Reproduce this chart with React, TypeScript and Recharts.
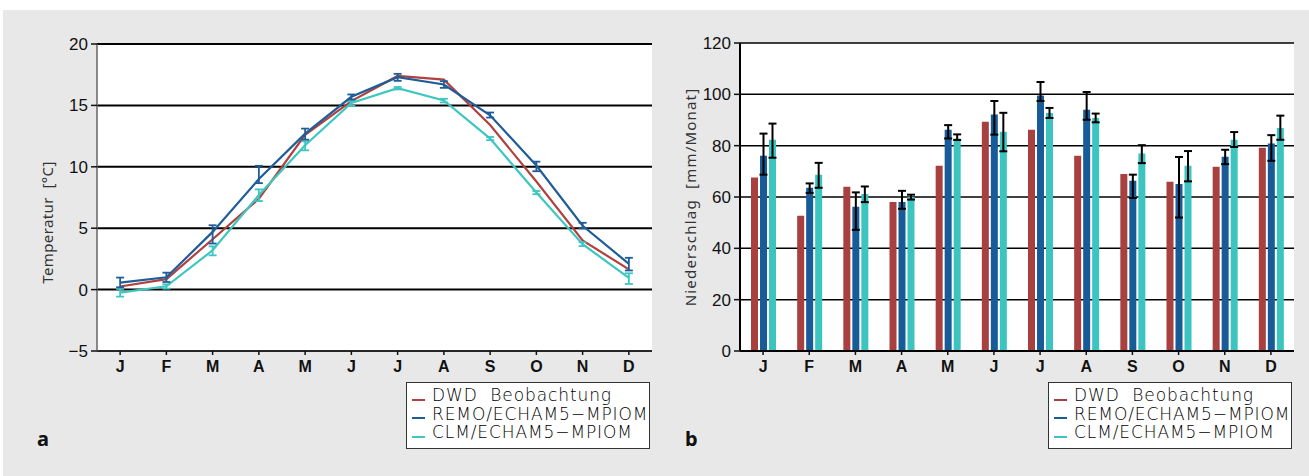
import React from "react";
import {
    LineChart,
    Line,
    BarChart,
    Bar,
    XAxis,
    YAxis,
    CartesianGrid,
    ErrorBar,
    Legend,
    Label,
} from "recharts";

// Monatsmittel, Stationen vs. Modelle
const months = ["J", "F", "M", "A", "M", "J", "J", "A", "S", "O", "N", "D"];
const seriesNames = ["DWD  Beobachtung", "REMO/ECHAM5\u2212MPIOM", "CLM/ECHAM5\u2212MPIOM"];

const tempTicks = [-5, 0, 5, 10, 15, 20];
const tempDwd = [0.25, 0.85, 4.1, 7.4, 12.6, 15.35, 17.4, 17.1, 13.4, 8.8, 4.0, 1.65];
const tempRemo = [0.57, 1.0, 4.7, 9.0, 12.7, 15.7, 17.3, 16.7, 14.2, 10.1, 5.2, 2.1];
const tempRemoErr = [
    [0.38, 0.41], [0.38, 0.38], [0.95, 0.54], [0.33, 1.08], [0.49, 0.41], [0.22, 0.19],
    [0.3, 0.27], [0.27, 0.27], [0.19, 0.22], [0.46, 0.32], [0.22, 0.24], [0.54, 0.49],
];
const tempClm = [-0.25, 0.27, 3.2, 7.7, 11.75, 15.2, 16.4, 15.4, 12.3, 7.9, 3.7, 0.95];
const tempClmErr = [
    [0.32, 0.3], [0.19, 0.16], [0.41, 0.32], [0.49, 0.46], [0.41, 0.32], [0.24, 0.14],
    [0.1, 0.1], [0.16, 0.14], [0.13, 0.13], [0.13, 0.13], [0.16, 0.16], [0.49, 0.38],
];

const precTicks = [0, 20, 40, 60, 80, 100, 120];
const precDwd = [67.6, 52.7, 64.0, 58.1, 72.2, 89.3, 86.2, 76.1, 69.0, 65.9, 71.8, 79.2];
const precRemo = [76.1, 63.6, 56.2, 58.1, 86.2, 92.1, 99.5, 94.0, 66.3, 65.1, 75.7, 80.8];
const precRemoErr = [
    [7.4, 8.6], [2.0, 1.7], [9.0, 5.6], [2.7, 4.3], [3.4, 1.8], [7.8, 5.3],
    [2.1, 5.3], [3.9, 6.9], [6.7, 2.4], [13.1, 10.5], [2.9, 2.7], [6.7, 3.3],
];
const precClm = [82.3, 68.7, 61.2, 60.0, 82.8, 85.4, 92.7, 90.8, 76.9, 72.2, 82.3, 86.9];
const precClmErr = [
    [7.0, 6.3], [5.1, 4.6], [3.2, 2.9], [1.0, 0.9], [0.6, 1.6], [7.6, 7.4],
    [1.9, 2.0], [1.7, 1.7], [3.7, 3.3], [6.1, 5.7], [2.8, 3.0], [4.6, 4.8],
];

const lineColors = ["#b0413e", "#1f5d98", "#3ec6c1"];
const barColors = ["#a8403f", "#175c99", "#3bc4c0"];

const tempData = months.map((m, i) => ({
    x: i + 1,
    dwd: tempDwd[i],
    remo: tempRemo[i],
    remoErr: tempRemoErr[i],
    clm: tempClm[i],
    clmErr: tempClmErr[i],
}));

const precData = months.map((m, i) => ({
    idx: i,
    dwd: precDwd[i],
    remo: precRemo[i],
    remoErr: precRemoErr[i],
    clm: precClm[i],
    clmErr: precClmErr[i],
}));

const tickFont = "'Liberation Sans Narrow', 'Liberation Sans', Arial, sans-serif";
const yTick = { fontFamily: tickFont, fontSize: 17, fill: "#111" };
const xTick = { fontFamily: tickFont, fontSize: 16, fill: "#111", fontWeight: 700 };
const fmtTemp = (v: number) => (v < 0 ? "\u2212" + Math.abs(v) : String(v));

function LegendBox({ colors }: { colors: string[] }) {
    return (
        <div
            style={{
                width: 244,
                height: 67,
                boxSizing: "border-box",
                border: "1.5px solid #333",
                background: "#fff",
                padding: "3px 0 0 5px",
                fontFamily: "'DejaVu Sans', sans-serif",
                fontWeight: 300,
                fontSize: 17,
                lineHeight: "18.5px",
                letterSpacing: 0.9,
                color: "#000",
                textAlign: "left",
            }}
        >
            {seriesNames.map((n, i) => (
                <div key={n} style={{ display: "flex", alignItems: "flex-end", whiteSpace: "pre" }}>
                    <span
                        style={{
                            display: "inline-block",
                            width: 13,
                            height: 2,
                            background: colors[i],
                            marginRight: 7,
                            marginBottom: 4,
                        }}
                    />
                    <span>{n}</span>
                </div>
            ))}
        </div>
    );
}

function AxisTitle(props: any) {
    const { viewBox, text, dx = 0, dy = 0, spacing = 0.5 } = props;
    const cx = viewBox.x + viewBox.width / 2 + dx;
    const cy = viewBox.y + viewBox.height / 2 + dy;
    return (
        <text
            x={cx}
            y={cy}
            transform={`rotate(-90 ${cx} ${cy})`}
            textAnchor="middle"
            dominantBaseline="central"
            fontFamily="'Noto Sans', 'DejaVu Sans', sans-serif"
            fontSize={15}
            letterSpacing={spacing}
            fill="#333"
            style={{ whiteSpace: "pre" }}
        >
            {text}
        </text>
    );
}

export default function App() {
    return (
        <div style={{ position: "absolute", left: 0, top: 0, width: 1309, height: 476, background: "#fff" }}>
            <div style={{ position: "absolute", left: 3, top: 10, width: 1306, height: 466, background: "#e8e8e8" }} />

            <div style={{ position: "absolute", left: 0, top: 0 }}>
                <LineChart
                    width={660}
                    height={476}
                    data={tempData}
                    margin={{ top: 44, right: 8, bottom: 95, left: 0 }}
                >
                    <CartesianGrid vertical={false} stroke="#000" strokeWidth={2} fill="#fff" />
                    <XAxis
                        type="number"
                        dataKey="x"
                        domain={[0.5, 12.5]}
                        ticks={months.map((m, i) => i + 1)}
                        tickFormatter={(v) => months[v - 1]}
                        interval={0}
                        height={30}
                        tick={xTick}
                        tickSize={4}
                        tickMargin={6}
                        axisLine={{ stroke: "#333", strokeWidth: 1.5 }}
                        tickLine={{ stroke: "#111", strokeWidth: 1.5 }}
                    />
                    <YAxis
                        width={97}
                        domain={[-5, 20]}
                        ticks={tempTicks}
                        tickFormatter={fmtTemp}
                        tick={yTick}
                        tickSize={6}
                        tickMargin={3}
                        axisLine={{ stroke: "#666", strokeWidth: 1.5 }}
                        tickLine={{ stroke: "#111", strokeWidth: 1.5 }}
                    >
                        <Label content={<AxisTitle text={"Temperatur  [\u00b0C]"} dx={-1.5} dy={25} spacing={0.4} />} />
                    </YAxis>
                    <YAxis
                        yAxisId="frame"
                        orientation="right"
                        width={0}
                        domain={[0, 1]}
                        tick={false}
                        tickLine={false}
                        axisLine={{ stroke: "#555", strokeWidth: 1.5 }}
                    />
                    <Legend
                        layout="horizontal"
                        verticalAlign="middle"
                        align="center"
                        wrapperStyle={{ left: 406, top: 382, width: 244, height: 67 }}
                        content={() => <LegendBox colors={lineColors} />}
                    />
                    <Line
                        dataKey="dwd"
                        name={seriesNames[0]}
                        stroke={lineColors[0]}
                        strokeWidth={2.2}
                        dot={false}
                        isAnimationActive={false}
                    />
                    <Line
                        dataKey="clm"
                        name={seriesNames[2]}
                        stroke={lineColors[2]}
                        strokeWidth={2.2}
                        dot={false}
                        isAnimationActive={false}
                    >
                        <ErrorBar dataKey="clmErr" direction="y" width={4} stroke={lineColors[2]} strokeWidth={1.8} isAnimationActive={false} />
                    </Line>
                    <Line
                        dataKey="remo"
                        name={seriesNames[1]}
                        stroke={lineColors[1]}
                        strokeWidth={2.2}
                        dot={false}
                        isAnimationActive={false}
                    >
                        <ErrorBar dataKey="remoErr" direction="y" width={4} stroke={lineColors[1]} strokeWidth={1.8} isAnimationActive={false} />
                    </Line>
                </LineChart>
            </div>

            <div style={{ position: "absolute", left: 640, top: 0 }}>
                <BarChart
                    width={669}
                    height={476}
                    data={precData}
                    barSize={7}
                    barGap={2}
                    margin={{ top: 43, right: 15, bottom: 95, left: 0 }}
                >
                    <CartesianGrid vertical={false} stroke="#000" strokeWidth={1.5} fill="#fff" />
                    <XAxis
                        dataKey="idx"
                        tickFormatter={(v) => months[v]}
                        interval={0}
                        height={30}
                        tick={xTick}
                        tickSize={4}
                        tickMargin={6}
                        axisLine={{ stroke: "#000", strokeWidth: 2 }}
                        tickLine={{ stroke: "#111", strokeWidth: 1.5 }}
                    />
                    <YAxis
                        width={100}
                        domain={[0, 120]}
                        ticks={precTicks}
                        tick={yTick}
                        tickSize={6}
                        tickMargin={3}
                        axisLine={{ stroke: "#000", strokeWidth: 2 }}
                        tickLine={{ stroke: "#111", strokeWidth: 1.5 }}
                    >
                        <Label content={<AxisTitle text={"Niederschlag  [mm/Monat]"} dx={0} dy={0} spacing={1.2} />} />
                    </YAxis>
                    <YAxis
                        yAxisId="frame"
                        orientation="right"
                        width={0}
                        domain={[0, 1]}
                        tick={false}
                        tickLine={false}
                        axisLine={{ stroke: "#000", strokeWidth: 2 }}
                    />
                    <Legend
                        layout="horizontal"
                        verticalAlign="middle"
                        align="center"
                        wrapperStyle={{ left: 408, top: 382, width: 246, height: 67 }}
                        content={() => <LegendBox colors={barColors} />}
                    />
                    <Bar dataKey="dwd" name={seriesNames[0]} fill={barColors[0]} isAnimationActive={false} />
                    <Bar dataKey="remo" name={seriesNames[1]} fill={barColors[1]} isAnimationActive={false}>
                        <ErrorBar dataKey="remoErr" direction="y" width={4} stroke="#000" strokeWidth={2} isAnimationActive={false} />
                    </Bar>
                    <Bar dataKey="clm" name={seriesNames[2]} fill={barColors[2]} isAnimationActive={false}>
                        <ErrorBar dataKey="clmErr" direction="y" width={4} stroke="#000" strokeWidth={2} isAnimationActive={false} />
                    </Bar>
                </BarChart>
            </div>

            <div style={{ position: "absolute", left: 37, top: 425, fontFamily: "'Noto Sans', sans-serif", fontWeight: 700, fontSize: 20, color: "#111" }}>
                a
            </div>
            <div style={{ position: "absolute", left: 685, top: 425, fontFamily: "'Noto Sans', sans-serif", fontWeight: 700, fontSize: 20, color: "#111" }}>
                b
            </div>
        </div>
    );
}
